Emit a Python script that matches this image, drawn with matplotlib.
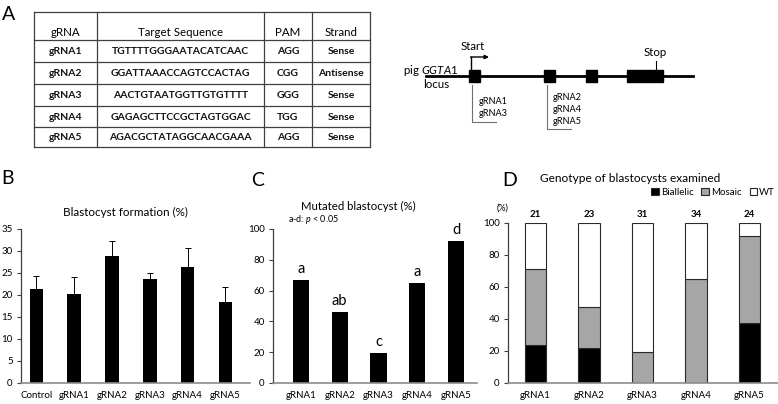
import matplotlib
matplotlib.use("Agg")
import matplotlib.pyplot as plt
import numpy as np

plt.rcParams['font.family'] = ['Lato', 'DejaVu Sans']
plt.rcParams['mathtext.fontset'] = 'custom'
plt.rcParams['mathtext.rm'] = 'Lato'
plt.rcParams['mathtext.it'] = 'Lato:italic'

# ---------------- data ----------------
table_header = ["gRNA", "Target Sequence", "PAM", "Strand"]
grna_names = ["gRNA1", "gRNA2", "gRNA3", "gRNA4", "gRNA5"]
target_seqs = ["TGTTTTGGGAATACATCAAC", "GGATTAAACCAGTCCACTAG",
               "AACTGTAATGGTTGTGTTTT", "GAGAGCTTCCGCTAGTGGAC",
               "AGACGCTATAGGCAACGAAA"]
pams = ["AGG", "CGG", "GGG", "TGG", "AGG"]
strands = ["Sense", "Antisense", "Sense", "Sense", "Sense"]

b_categories = ["Control", "gRNA1", "gRNA2", "gRNA3", "gRNA4", "gRNA5"]
b_values = [21.4, 20.2, 28.9, 23.7, 26.4, 18.5]
b_errors = [2.9, 3.8, 3.4, 1.3, 4.2, 3.4]

c_categories = ["gRNA1", "gRNA2", "gRNA3", "gRNA4", "gRNA5"]
c_values = [66.9, 46.0, 19.3, 64.9, 92.2]
c_letters = ["a", "ab", "c", "a", "d"]

d_categories = ["gRNA1", "gRNA2", "gRNA3", "gRNA4", "gRNA5"]
d_biallelic = [23.8, 21.7, 0.0, 0.0, 37.5]
d_mosaic = [47.6, 26.1, 19.4, 64.7, 54.2]
d_wt = [100 - b - m for b, m in zip(d_biallelic, d_mosaic)]
d_n = [21, 23, 31, 34, 24]

# ---------------- figure ----------------
W, H = 778, 404
fig = plt.figure(figsize=(W / 100, H / 100), dpi=100)


def fax(x0, y0, x1, y1):
    return fig.add_axes([x0 / W, 1 - y1 / H, (x1 - x0) / W, (y1 - y0) / H])


# overlay in pixel coordinates for the table, diagram and panel letters
ov = fig.add_axes([0, 0, 1, 1])
ov.set_xlim(0, W)
ov.set_ylim(H, 0)
ov.axis("off")

LW = 0.9
# panel letters
for lab, (x, y) in zip("ABCD", [(9, 14), (8, 179), (258, 181), (510, 181)]):
    ov.text(x, y, lab, fontsize=14, ha="center", va="center")

# table A
col_x = [34, 97, 264, 312, 370]
row_y = [12, 40, 62, 84, 106, 127, 147]
for x in col_x:
    ov.plot([x, x], [row_y[0], row_y[-1]], color="#404040", lw=LW)
for y in row_y:
    ov.plot([col_x[0], col_x[-1]], [y, y], color="#404040", lw=LW)
col_c = [(col_x[i] + col_x[i + 1]) / 2 for i in range(4)]
for i, h in enumerate(table_header):
    ov.text(col_c[i], 33, h, fontsize=8.3, ha="center", va="center")
rows = list(zip(grna_names, target_seqs, pams, strands))
for r, row in enumerate(rows):
    yc = (row_y[r + 1] + row_y[r + 2]) / 2 + 0.5
    for i, t in enumerate(row):
        ov.text(col_c[i], yc, t, fontsize=7.5, ha="center", va="center",
                weight="bold", color="#111111")

# gene diagram
ov.plot([426, 693], [76, 76], color="black", lw=2)
for x0, x1 in [(469, 480), (544, 555), (586, 597), (627, 663)]:
    ov.add_patch(plt.Rectangle((x0, 70), x1 - x0, 12, color="black"))
ov.plot([471, 471], [70, 57], color="black", lw=1)
ov.annotate("", xy=(489, 57), xytext=(470.5, 57),
            arrowprops=dict(arrowstyle="-|>", color="black", lw=1,
                            mutation_scale=6, shrinkA=0, shrinkB=0))
ov.text(473, 47, "Start", fontsize=8.3, ha="center", va="center")
ov.plot([656, 656], [61, 70], color="black", lw=0.8)
ov.text(655, 53, "Stop", fontsize=8.3, ha="center", va="center")
ov.text(458, 71, "pig $\\mathit{GGTA1}$", fontsize=8.3, ha="right",
        va="center")
ov.text(436, 85, "locus", fontsize=8.3, ha="center", va="center")
# brackets
ov.plot([472, 472, 496], [85, 122, 122], color="#707070", lw=0.8)
ov.plot([547, 547, 571], [85, 129, 129], color="#707070", lw=0.8)
for t, y in zip(["gRNA1", "gRNA3"], [102, 114]):
    ov.text(479, y, t, fontsize=6.6, ha="left", va="center")
for t, y in zip(["gRNA2", "gRNA4", "gRNA5"], [97, 109, 121]):
    ov.text(553, y, t, fontsize=6.6, ha="left", va="center")


def style_axes(ax):
    for s in ["top", "right"]:
        ax.spines[s].set_visible(False)
    ax.spines["left"].set_color("#404040")
    ax.spines["bottom"].set_color("#8c8c8c")
    ax.spines["left"].set_linewidth(0.9)
    ax.spines["bottom"].set_linewidth(1.2)
    ax.tick_params(axis="y", length=3, width=0.8, color="#404040",
                   labelsize=7, pad=3)
    ax.tick_params(axis="x", length=0, labelsize=7, pad=6)
    ax.patch.set_alpha(0)


# ---------------- panel B ----------------
axB = fax(21, 229, 250, 383)
xb = np.arange(len(b_categories))
axB.bar(xb, b_values, width=0.36, color="black", zorder=2)
axB.errorbar(xb, b_values, yerr=[np.zeros(len(b_errors)), b_errors],
             fmt="none", ecolor="black", elinewidth=0.7, capsize=2.5,
             capthick=0.7, zorder=1)
axB.set_xlim(-0.41, 5.65)
axB.set_ylim(0, 35)
axB.set_yticks(range(0, 36, 5))
axB.set_xticks(xb)
axB.set_xticklabels(b_categories)
style_axes(axB)
ov.text(125, 212, "Blastocyst formation (%)", fontsize=8.4, ha="center",
        va="center")

# ---------------- panel C ----------------
axC = fax(273, 229, 477, 383)
xc = np.arange(len(c_categories))
axC.bar(xc, c_values, width=0.42, color="black")
for x, v, l in zip(xc, c_values, c_letters):
    axC.text(x, v + 2.5, l, fontsize=10.5, ha="center", va="bottom")
axC.set_xlim(-0.72, 4.54)
axC.set_ylim(0, 100)
axC.set_yticks(range(0, 101, 20))
axC.set_xticks(xc)
axC.set_xticklabels(c_categories)
style_axes(axC)
ov.text(358, 206.5, "Mutated blastocyst (%)", fontsize=8.2, ha="center",
        va="center")
ov.text(288, 219.5, "a-d: $p$ < 0.05", fontsize=6.5, ha="left", va="center")

# ---------------- panel D ----------------
axD = fax(508, 223, 778, 383)
xd = np.arange(len(d_categories))
wd = 0.4
ec = "#2a2a2a"
axD.bar(xd, d_biallelic, width=wd, color="black", edgecolor=ec, lw=0.8,
        label="Biallelic")
axD.bar(xd, d_mosaic, width=wd, bottom=d_biallelic, color="#a6a6a6",
        edgecolor=ec, lw=0.8, label="Mosaic")
bottom2 = [b + m for b, m in zip(d_biallelic, d_mosaic)]
axD.bar(xd, d_wt, width=wd, bottom=bottom2, color="white", edgecolor=ec,
        lw=0.8, label="WT")
for x, n in zip(xd, d_n):
    axD.text(x, 102.5, str(n), fontsize=7, ha="center", va="bottom",
             weight="bold")
axD.set_xlim(-0.51, 4.53)
axD.set_ylim(0, 100)
axD.set_yticks(range(0, 101, 20))
axD.set_xticks(xd)
axD.set_xticklabels(d_categories)
style_axes(axD)
ov.text(503, 208, "(%)", fontsize=6.5, ha="center", va="center")
ov.text(630, 179, "Genotype of blastocysts examined", fontsize=8.6,
        ha="center", va="center")
leg = axD.legend(loc="upper right", bbox_to_anchor=(775 / W, 1 - 188 / H),
                 bbox_transform=fig.transFigure, ncol=3, frameon=False,
                 fontsize=7, handlelength=0.8, handleheight=0.8,
                 handletextpad=0.2, columnspacing=0.8, borderpad=0,
                 borderaxespad=0)

fig.savefig("out.png", dpi=100)
